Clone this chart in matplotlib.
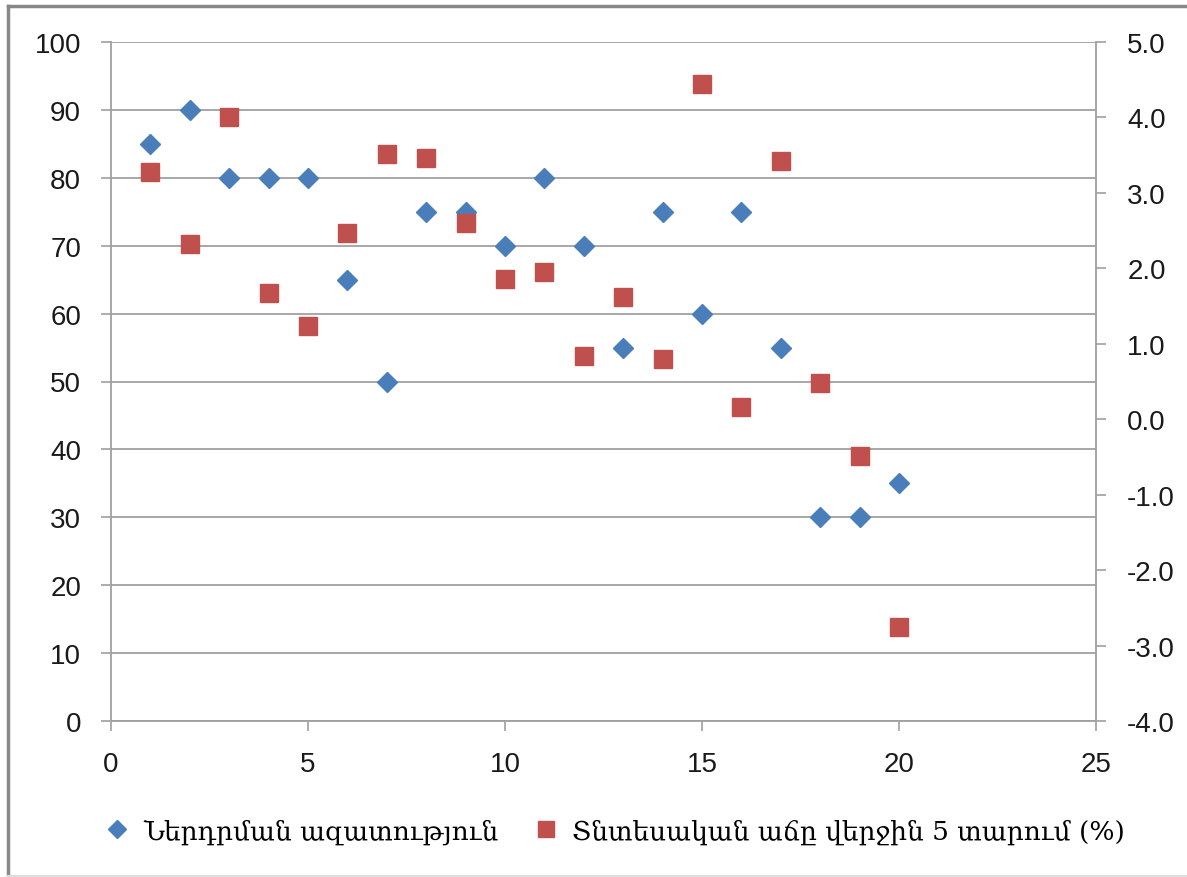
import numpy as np
import matplotlib.pyplot as plt
from matplotlib.lines import Line2D
from matplotlib.ticker import FormatStrFormatter, MultipleLocator

# data
x_vals = list(range(1, 21))
freedom = [85, 90, 80, 80, 80, 65, 50, 75, 75, 70,
           80, 70, 55, 75, 60, 75, 55, 30, 30, 35]
growth = [3.28, 2.32, 4.01, 1.67, 1.24, 2.47, 3.52, 3.46, 2.60, 1.86,
          1.95, 0.84, 1.62, 0.80, 4.44, 0.16, 3.42, 0.48, -0.49, -2.75]

label_freedom = 'Ներդրման ազատություն'
label_growth = 'Տնտեսական աճը վերջին 5 տարում (%)'

blue = '#4A7EBB'
red = '#C0504D'
gray = '#a0a0a0'

plt.rcParams['font.family'] = ['Liberation Sans', 'DejaVu Sans']

fig = plt.figure(figsize=(11.87, 8.78), dpi=100)
ax = fig.add_axes([111 / 1187, 1 - 722 / 878, (1096 - 111) / 1187, (722 - 43) / 878])
ax2 = ax.twinx()

ax.plot(x_vals, freedom, linestyle='none', marker='D', markersize=10,
        color=blue, markeredgecolor=blue, zorder=3)
ax2.plot(x_vals, growth, linestyle='none', marker='s', markersize=13.5,
         color=red, markeredgecolor=red, zorder=3)

ax.set_xlim(0, 25)
ax.set_ylim(0, 100)
ax2.set_ylim(-4, 5)
ax.xaxis.set_major_locator(MultipleLocator(5))
ax.yaxis.set_major_locator(MultipleLocator(10))
ax2.yaxis.set_major_locator(MultipleLocator(1))
ax2.yaxis.set_major_formatter(FormatStrFormatter('%.1f'))

ax.yaxis.grid(True, color=gray, linewidth=1.3)
ax.set_axisbelow(True)

for a in (ax, ax2):
    for s in a.spines.values():
        s.set_visible(False)
    a.tick_params(direction='out', length=7.5, width=1.2, color=gray,
                  labelsize=20, labelcolor='#1a1a1a')
ax.spines['left'].set_visible(True)
ax.spines['left'].set_color(gray)
ax.spines['left'].set_linewidth(1.3)
ax.spines['bottom'].set_visible(True)
ax.spines['bottom'].set_color(gray)
ax.spines['bottom'].set_linewidth(1.3)
ax2.spines['right'].set_visible(True)
ax2.spines['right'].set_color(gray)
ax2.spines['right'].set_linewidth(1.3)
ax.tick_params(axis='y', pad=14)
ax.tick_params(axis='x', pad=14)
ax2.tick_params(axis='y', pad=15)

handles = [
    Line2D([], [], linestyle='none', marker='D', markersize=9, color=blue),
    Line2D([], [], linestyle='none', marker='s', markersize=12, color=red),
]
fig.legend(handles, [label_freedom, label_growth], loc='center',
           bbox_to_anchor=(0.512, 1 - 832 / 878), ncol=2, frameon=False,
           handletextpad=0.0, columnspacing=0.8,
           prop={'family': 'DejaVu Serif', 'size': 19})

# chart border
fig.add_artist(Line2D([8 / 1187, 8 / 1187], [0, 1 - 7 / 878],
                      transform=fig.transFigure, color='#888888', linewidth=2.5))
fig.add_artist(Line2D([8 / 1187, 1], [1 - 7 / 878, 1 - 7 / 878],
                      transform=fig.transFigure, color='#888888', linewidth=2.5))
fig.add_artist(Line2D([8 / 1187, 1], [1 / 878, 1 / 878],
                      transform=fig.transFigure, color='#dddddd', linewidth=1.5))

fig.savefig('out.png', dpi=100)
